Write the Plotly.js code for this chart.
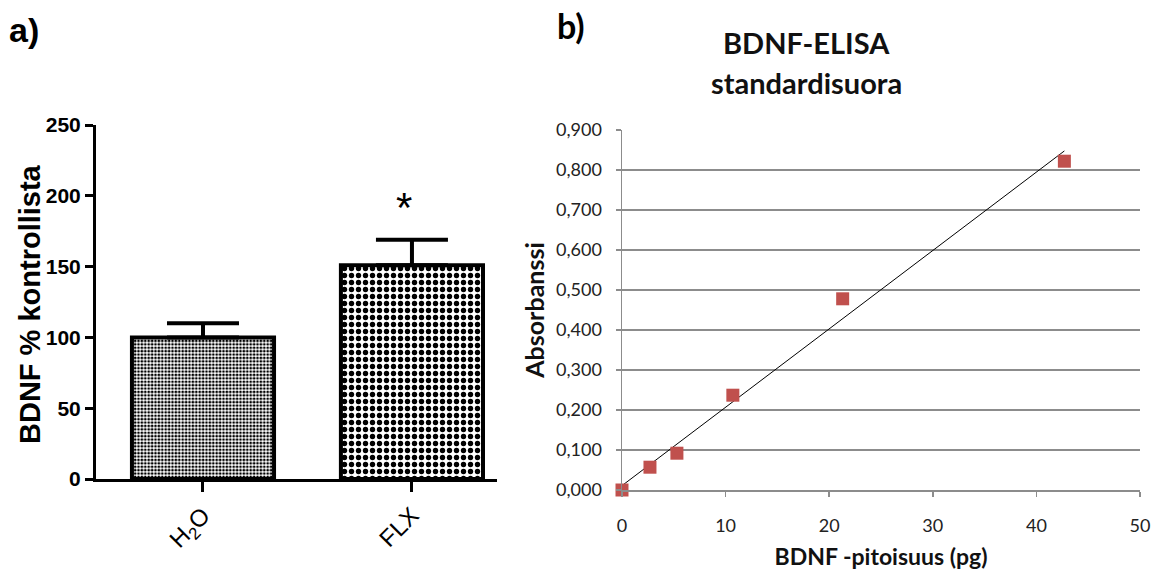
<!DOCTYPE html>
<html>
<head>
<meta charset="utf-8">
<script src="https://cdn.plot.ly/plotly-3.0.1.min.js"></script>
<style>
  html, body { margin: 0; padding: 0; background: #fff; }
  #chart { width: 1162px; height: 579px; }
</style>
</head>
<body>
<div id="chart"></div>
<script>
// ---- Panel a) data ----
const groups = ['H2O', 'FLX'];
const groupLabels = ['H<sub>2</sub>O', 'FLX'];
const bdnfPercent = [100, 151];
const bdnfError = [10, 18];
const yTicksA = [0, 50, 100, 150, 200, 250];

// ---- Panel b) data ----
const concentrationPg = [0, 2.7, 5.3, 10.7, 21.3, 42.7];
const absorbance = [0.000, 0.057, 0.092, 0.237, 0.478, 0.822];
const xTicksB = [0, 10, 20, 30, 40, 50];

// linear trendline (least squares) from the standard points
function linFit(xs, ys) {
  const n = xs.length;
  const mx = xs.reduce((a, b) => a + b, 0) / n;
  const my = ys.reduce((a, b) => a + b, 0) / n;
  let sxy = 0, sxx = 0;
  for (let i = 0; i < n; i++) { sxy += (xs[i] - mx) * (ys[i] - my); sxx += (xs[i] - mx) ** 2; }
  const slope = sxy / sxx;
  return { slope, intercept: my - slope * mx };
}
const fit = linFit(concentrationPg, absorbance);
const trendX = [Math.min(...concentrationPg), Math.max(...concentrationPg)];
const trendY = trendX.map(x => fit.intercept + fit.slope * x);

const W = 1162, H = 579;
const px = v => v / W;
const py = v => (H - v) / H;

const arial = '"Liberation Sans", Arial, sans-serif';
const cal = 'Lato, "Open Sans", sans-serif';

const traces = [
  {
    type: 'bar', x: [groups[0]], y: [bdnfPercent[0]], xaxis: 'x', yaxis: 'y', width: 0.68,
    marker: {
      color: '#ffffff',
      line: { color: '#000', width: 4 },
      pattern: { shape: '.', size: 3.4, solidity: 0.5, fgcolor: '#000', bgcolor: '#ffffff', fillmode: 'replace' }
    },
    error_y: { type: 'data', symmetric: false, array: [bdnfError[0]], arrayminus: [0], color: '#000', thickness: 4, width: 36 },
    showlegend: false, hoverinfo: 'skip'
  },
  {
    type: 'bar', x: [groups[1]], y: [bdnfPercent[1]], xaxis: 'x', yaxis: 'y', width: 0.68,
    marker: {
      color: '#ffffff',
      line: { color: '#000', width: 4 },
      pattern: { shape: '.', size: 7, solidity: 0.46, fgcolor: '#000', bgcolor: '#ffffff', fillmode: 'replace' }
    },
    error_y: { type: 'data', symmetric: false, array: [bdnfError[1]], arrayminus: [0], color: '#000', thickness: 4, width: 36 },
    showlegend: false, hoverinfo: 'skip'
  },
  {
    type: 'scatter', mode: 'lines', x: trendX, y: trendY, xaxis: 'x2', yaxis: 'y2',
    line: { color: '#000', width: 1 }, showlegend: false, hoverinfo: 'skip'
  },
  {
    type: 'scatter', mode: 'markers', x: concentrationPg, y: absorbance, xaxis: 'x2', yaxis: 'y2',
    marker: { symbol: 'square', size: 13, color: '#c0504d' }, cliponaxis: false, showlegend: false
  }
];

const layout = {
  width: W, height: H,
  margin: { l: 0, r: 0, t: 0, b: 0 },
  paper_bgcolor: '#fff', plot_bgcolor: 'rgba(0,0,0,0)',
  separators: ',.',
  xaxis: {
    domain: [px(96), px(497)], anchor: 'y', type: 'category',
    range: [-0.512, 1.407],
    tickvals: groups, ticktext: groupLabels, tickangle: -45,
    showline: true, linecolor: '#000', linewidth: 3,
    ticks: 'outside', ticklen: 10, tickwidth: 3, tickcolor: '#000',
    tickfont: { family: arial, size: 24, color: '#000' },
    showgrid: false, zeroline: false, fixedrange: true
  },
  yaxis: {
    domain: [py(479), py(125)], anchor: 'x',
    range: [0, 250], tickvals: yTicksA,
    showline: true, linecolor: '#000', linewidth: 3,
    ticks: 'outside', ticklen: 8, tickwidth: 3, tickcolor: '#000',
    tickfont: { family: arial, size: 21, color: '#000', weight: 'bold' },
    showgrid: false, zeroline: false,
    fixedrange: true
  },
  xaxis2: {
    domain: [px(622), px(1140)], anchor: 'y2',
    range: [0, 50], tickvals: xTicksB,
    showline: true, linecolor: '#8c8c8c', linewidth: 1.5,
    ticks: 'outside', ticklen: 5, tickwidth: 1.5, tickcolor: '#8c8c8c',
    ticklabelstandoff: 14,
    tickfont: { family: cal, size: 18, color: '#222' },
    showgrid: false, zeroline: false,
    title: { text: 'BDNF -pitoisuus (pg)', font: { family: cal, size: 23, color: '#111', weight: 'bold' }, standoff: 14 },
    fixedrange: true
  },
  yaxis2: {
    domain: [py(490), py(130)], anchor: 'x2',
    range: [0, 0.9], dtick: 0.1, tick0: 0, tickformat: '.3f',
    showline: true, linecolor: '#8c8c8c', linewidth: 1.5,
    ticks: 'outside', ticklen: 5, tickwidth: 1.5, tickcolor: '#8c8c8c',
    ticklabelstandoff: 10,
    tickfont: { family: cal, size: 18, color: '#222' },
    showgrid: true, gridcolor: '#8c8c8c', gridwidth: 1.5, zeroline: false,
    title: { text: 'Absorbanssi', font: { family: cal, size: 25, color: '#111', weight: 'bold' }, standoff: 4 },
    fixedrange: true
  },
  annotations: [
    { xref: 'paper', yref: 'paper', x: px(30), y: py(304), xanchor: 'center', yanchor: 'middle', textangle: -90,
      text: 'BDNF % kontrollista', showarrow: false, font: { family: arial, size: 29, color: '#000', weight: 'bold' } },
    { xref: 'paper', yref: 'paper', x: px(24), y: py(30), xanchor: 'center', yanchor: 'middle',
      text: 'a)', showarrow: false, font: { family: arial, size: 34, color: '#000', weight: 'bold' } },
    { xref: 'paper', yref: 'paper', x: px(571), y: py(26), xanchor: 'center', yanchor: 'middle',
      text: 'b)', showarrow: false, font: { family: cal, size: 34, color: '#000', weight: 'bold' } },
    { xref: 'paper', yref: 'paper', x: px(806), y: py(42), xanchor: 'center', yanchor: 'middle',
      text: 'BDNF-ELISA', showarrow: false, font: { family: cal, size: 29, color: '#111', weight: 'bold' } },
    { xref: 'paper', yref: 'paper', x: px(806), y: py(82), xanchor: 'center', yanchor: 'middle',
      text: 'standardisuora', showarrow: false, font: { family: cal, size: 29, color: '#111', weight: 'bold' } },
    { xref: 'x', yref: 'y', x: groups[1], y: 192, xanchor: 'center', yanchor: 'middle', xshift: -8,
      text: '*', showarrow: false, font: { family: arial, size: 42, color: '#000' } }
  ]
};

Plotly.newPlot('chart', traces, layout, { staticPlot: true, displayModeBar: false });
</script>
</body>
</html>
